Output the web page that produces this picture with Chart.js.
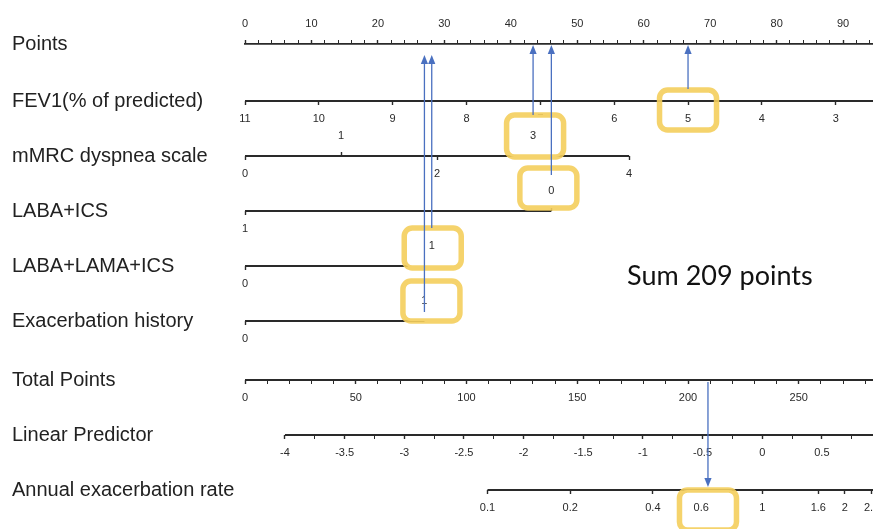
<!DOCTYPE html>
<html>
<head>
<meta charset="utf-8">
<script src="https://cdn.jsdelivr.net/npm/chart.js@4.4.1/dist/chart.umd.min.js"></script>
<style>
  html, body { margin: 0; padding: 0; background: #ffffff; overflow: hidden; }
  #wrap { width: 873px; height: 529px; position: relative; }
</style>
</head>
<body>
<div id="wrap"><canvas id="c" width="873" height="529"></canvas></div>
<script>
// ---------------- data ----------------
const rowNames = ['Points', 'FEV1(% of predicted)', 'mMRC dyspnea scale', 'LABA+ICS',
                  'LABA+LAMA+ICS', 'Exacerbation history', 'Total Points',
                  'Linear Predictor', 'Annual exacerbation rate'];

const pointsTicks   = [0, 10, 20, 30, 40, 50, 60, 70, 80, 90, 100];
const fev1Values    = [11, 10, 9, 8, 7, 6, 5, 4, 3, 2];
const fev1Points    = [0, 100];          // points at FEV1 = 11 and FEV1 = 2
const mmrcValues    = [0, 1, 2, 3, 4];
const mmrcPoints    = [0, 57.8];         // points at mMRC 0 and 4
const labaIcsValues = [1, 0];
const labaIcsPoints = [0, 46.1];
const lliValues     = [0, 1];
const lliPoints     = [0, 28.1];
const exacValues    = [0, 1];
const exacPoints    = [0, 27.0];
const totalTicks    = [0, 50, 100, 150, 200, 250, 300];
const totalMax      = 300;               // total points that span the 0-100 points ruler
const lpTicks       = [-4, -3.5, -3, -2.5, -2, -1.5, -1, -0.5, 0, 0.5, 1];
const lpRange       = [-4.335, 1.235];   // linear predictor at total 0 and total 300
const rateTicks     = [0.1, 0.2, 0.4, 0.6, 1, 1.6, 2, 2.5];

const chosen = { fev1: 5, mmrc: 3, labaIcs: 0, lli: 1, exac: 1 };
const totalChosen = 209;
const sumText = 'Sum ' + totalChosen + ' points';

// ---------------- layout / style ----------------
const XMAX = 94.5;                        // points value at the right edge of the (cropped) figure
const rowY = [0, 57, 112, 167, 222, 277, 336, 391, 446];   // vertical slot of each ruler
const FONT = "'Liberation Sans', Arial, Helvetica, sans-serif";
const INK = '#2a2a2a';
const TICK = 4;
const BLUE = '#4a70c0';
const YELLOW = 'rgba(244, 206, 92, 0.9)';

function linMap(v0, p0, v1, p1) {
  const k = (v1 - v0) / (p1 - p0);
  return { val: p => v0 + (p - p0) * k, pts: v => p0 + (v - v0) / k };
}
const fev1Map  = linMap(fev1Values[0], fev1Points[0], fev1Values[fev1Values.length - 1], fev1Points[1]);
const mmrcMap  = linMap(mmrcValues[0], mmrcPoints[0], mmrcValues[mmrcValues.length - 1], mmrcPoints[1]);
const labaMap  = linMap(labaIcsValues[0], labaIcsPoints[0], labaIcsValues[1], labaIcsPoints[1]);
const lliMap   = linMap(lliValues[0], lliPoints[0], lliValues[1], lliPoints[1]);
const exacMap  = linMap(exacValues[0], exacPoints[0], exacValues[1], exacPoints[1]);
const totalMap = linMap(0, 0, totalMax, 100);
const lpMap    = linMap(lpRange[0], 0, lpRange[1], 100);
const rateMap  = { val: p => Math.exp(lpMap.val(p)), pts: r => lpMap.pts(Math.log(r)) };

const zeroPad = s => { s.paddingLeft = 0; s.paddingRight = 0; s.paddingTop = 0; s.paddingBottom = 0; };

function minorEvery(majors, step) {
  const out = [];
  for (let i = 0; i < majors.length - 1; i++) {
    const a = majors[i], b = majors[i + 1];
    const n = Math.round((b - a) / step);
    for (let j = 0; j < n; j++) out.push(+(a + j * step).toFixed(6));
  }
  out.push(majors[majors.length - 1]);
  return out;
}
const isIn = (v, list) => list.some(m => Math.abs(m - v) < 1e-6);

function rulerAxis(row, map, tickVals, majors, o = {}) {
  const a = map.val(0), b = map.val(XMAX);
  const lo = Math.min(a, b), hi = Math.max(a, b);
  return {
    axis: 'x',
    type: o.log ? 'logarithmic' : 'linear',
    position: { y: rowY[row] - (o.above ? TICK : 0) },
    min: lo, max: hi, reverse: a > b, bounds: 'data',
    grid: {
      display: true, drawOnChartArea: false, drawTicks: true, tickLength: TICK,
      tickColor: INK,
      tickWidth: ctx => (ctx.tick && !isIn(ctx.tick.value, majors)) ? 1 : 1.4
    },
    border: { display: false },
    afterBuildTicks: s => {
      s.ticks = tickVals.filter(v => v >= lo - 1e-9 && v <= hi + 1e-9).map(v => ({ value: v }));
    },
    afterFit: zeroPad,
    ticks: {
      z: o.under ? 0 : 1,
      autoSkip: false, maxRotation: 0, minRotation: 0,
      padding: o.above ? -26.6 : 7,
      color: INK, font: { family: FONT, size: 11 },
      callback: v => isIn(v, majors) ? String(+(+v).toFixed(4)) : ''
    }
  };
}

const pointsAll = minorEvery(pointsTicks, 2);
const totalAll  = minorEvery(totalTicks, 10);
const lpAll     = minorEvery(lpTicks, 0.25);

const scales = {
  x: {
    type: 'linear', position: 'top', min: 0, max: XMAX, bounds: 'data',
    grid: {
      display: true, drawOnChartArea: false, drawTicks: true, tickLength: TICK,
      tickColor: INK,
      tickWidth: ctx => (ctx.tick && !isIn(ctx.tick.value, pointsTicks)) ? 1 : 1.4
    },
    border: { display: true, color: INK, width: 1.8 },
    afterBuildTicks: s => { s.ticks = pointsAll.filter(v => v <= XMAX).map(v => ({ value: v })); },
    afterFit: s => { zeroPad(s); s.height = 44; },
    ticks: {
      autoSkip: false, maxRotation: 0, minRotation: 0, padding: 9.4,
      color: INK, font: { family: FONT, size: 11 },
      callback: v => isIn(v, pointsTicks) ? String(v) : ''
    }
  },
  y: {
    type: 'linear', position: 'left', reverse: true, min: 0, max: 485, bounds: 'data',
    grid: { display: false }, border: { display: false },
    afterBuildTicks: s => { s.ticks = rowY.map(v => ({ value: v })); },
    afterFit: s => { zeroPad(s); s.width = 233; },
    ticks: {
      autoSkip: false, crossAlign: 'far', padding: 0, color: '#222',
      font: { family: FONT, size: 20 },
      callback: (v, i) => rowNames[i]
    }
  },
  xFev1:      rulerAxis(1, fev1Map, fev1Values, fev1Values, { under: true }),
  xMmrcLow:   rulerAxis(2, mmrcMap, [0, 2, 4], mmrcValues),
  xMmrcHigh:  rulerAxis(2, mmrcMap, [1, 3], mmrcValues, { above: true }),
  xLabaLow:   rulerAxis(3, labaMap, [1], labaIcsValues),
  xLabaHigh:  rulerAxis(3, labaMap, [0], labaIcsValues, { above: true }),
  xLliLow:    rulerAxis(4, lliMap, [0], lliValues),
  xLliHigh:   rulerAxis(4, lliMap, [1], lliValues, { above: true }),
  xExacLow:   rulerAxis(5, exacMap, [0], exacValues),
  xExacHigh:  rulerAxis(5, exacMap, [1], exacValues, { above: true }),
  xTotal:     rulerAxis(6, totalMap, totalAll, totalTicks),
  xLp:        rulerAxis(7, lpMap, lpAll, lpTicks),
  xRate:      rulerAxis(8, rateMap, rateTicks, rateTicks, { log: true })
};

const lineDs = (row, p0, p1) => ({
  type: 'line', data: [{ x: p0, y: rowY[row] }, { x: p1, y: rowY[row] }],
  borderColor: INK, borderWidth: 1.8, pointRadius: 0, xAxisID: 'x', yAxisID: 'y'
});

const datasets = [
  lineDs(1, fev1Map.pts(fev1Values[0]), 100),
  lineDs(2, mmrcMap.pts(mmrcValues[0]), mmrcMap.pts(mmrcValues[mmrcValues.length - 1])),
  lineDs(3, labaMap.pts(labaIcsValues[0]), labaMap.pts(labaIcsValues[1])),
  lineDs(4, lliMap.pts(lliValues[0]), lliMap.pts(lliValues[1])),
  lineDs(5, exacMap.pts(exacValues[0]), exacMap.pts(exacValues[1])),
  lineDs(6, totalMap.pts(totalTicks[0]), 100),
  lineDs(7, lpMap.pts(lpTicks[0]), 100),
  lineDs(8, rateMap.pts(rateTicks[0]), 100)
];

// highlighted readings: boxes and arrows to the points ruler
const picks = [
  { row: 1, pts: fev1Map.pts(chosen.fev1),    boxDy: 9,   boxH: 40, boxDx: 0,  from: -12, tipGap: 1,  fill: false },
  { row: 2, pts: mmrcMap.pts(chosen.mmrc),    boxDy: -20, boxH: 42, boxDx: 2,  from: -41, tipGap: 1,  fill: true },
  { row: 3, pts: labaMap.pts(chosen.labaIcs), boxDy: -23, boxH: 40, boxDx: -3, from: -36, tipGap: 1,  fill: true },
  { row: 4, pts: lliMap.pts(chosen.lli),      boxDy: -18, boxH: 40, boxDx: 1,  from: -38, tipGap: 11, fill: true },
  { row: 5, pts: exacMap.pts(chosen.exac),    boxDy: -20, boxH: 40, boxDx: 7,  from: -9,  tipGap: 11, fill: true }
];

function roundBox(ctx, cx, cy, w, h, r, fill) {
  ctx.beginPath();
  ctx.roundRect(cx - w / 2, cy - h / 2, w, h, r);
  if (fill) { ctx.fillStyle = '#ffffff'; ctx.fill(); }
  ctx.stroke();
}
function arrow(ctx, x, y0, y1) {
  const dir = y1 < y0 ? 1 : -1;          // 1: pointing up
  ctx.beginPath();
  ctx.moveTo(x, y0);
  ctx.lineTo(x, y1 + dir * 6);
  ctx.stroke();
  ctx.beginPath();
  ctx.moveTo(x, y1);
  ctx.lineTo(x - 3.6, y1 + dir * 9);
  ctx.lineTo(x + 3.6, y1 + dir * 9);
  ctx.closePath();
  ctx.fill();
}

const annotations = {
  id: 'annotations',
  afterDatasetsDraw(chart) {
    const ctx = chart.ctx, xs = chart.scales.x, ys = chart.scales.y;
    ctx.save();
    ctx.strokeStyle = YELLOW;
    ctx.lineWidth = 5.5;
    picks.forEach(p => {
      roundBox(ctx, xs.getPixelForValue(p.pts) + p.boxDx, ys.getPixelForValue(rowY[p.row]) + p.boxDy, 57, p.boxH, 8, p.fill);
    });
    const totX = xs.getPixelForValue(totalMap.pts(totalChosen));
    roundBox(ctx, totX, ys.getPixelForValue(rowY[8]) + 20, 57, 40, 8, true);
    ctx.restore();
  },
  afterDraw(chart) {
    const ctx = chart.ctx, xs = chart.scales.x, ys = chart.scales.y;
    ctx.save();
    ctx.strokeStyle = BLUE;
    ctx.fillStyle = BLUE;
    ctx.lineWidth = 1.3;
    const topY = ys.getPixelForValue(rowY[0]);
    picks.forEach(p => {
      const x = xs.getPixelForValue(p.pts);
      arrow(ctx, x, ys.getPixelForValue(rowY[p.row]) + p.from, topY + p.tipGap);
    });
    const totX = xs.getPixelForValue(totalMap.pts(totalChosen));
    arrow(ctx, totX, ys.getPixelForValue(rowY[6]) + 2, ys.getPixelForValue(rowY[8]) - 3);

    ctx.fillStyle = '#111';
    ctx.font = "27px Lato, 'Open Sans', sans-serif";
    ctx.textAlign = 'left';
    ctx.textBaseline = 'middle';
    ctx.fillText(sumText, xs.getPixelForValue(57.5), ys.getPixelForValue(232), 191);
    ctx.restore();
  }
};

new Chart(document.getElementById('c'), {
  type: 'line',
  data: { datasets },
  options: {
    responsive: false, animation: false, events: [],
    layout: { padding: { left: 12, top: 0, right: 0, bottom: 0 } },
    plugins: { legend: { display: false }, tooltip: { enabled: false } },
    scales
  },
  plugins: [annotations]
});
</script>
</body>
</html>
